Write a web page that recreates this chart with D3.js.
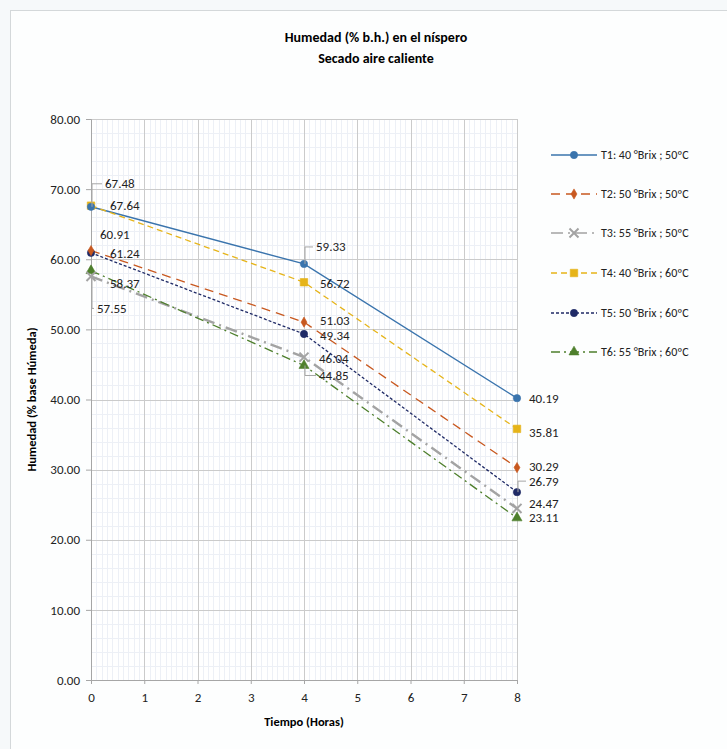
<!DOCTYPE html>
<meta charset="utf-8">
<html lang="es">
<head>
  <title>Humedad en el níspero</title>
  <script src="https://d3js.org/d3.v7.min.js"></script>
  <style>
    body { margin: 0; background: #f6f9fa; font-family: Carlito, Calibri, Lato, sans-serif; }
    .grid-major line { stroke: #cbcbcb; stroke-width: 1; }
    .grid-minor line { stroke: #edf0f6; stroke-width: 1; }
    .tick-lbl { font-size: 13px; fill: #222; }
    .data-lbl { font-size: 13px; fill: #222; }
    .leg-lbl { font-size: 12px; fill: #222; }
  </style>
</head>
<body>
<div id="chart"></div>
<script>

// data
var tiempos = [0, 4, 8];
var yTicks = [0, 10, 20, 30, 40, 50, 60, 70, 80];
var xTicks = [0, 1, 2, 3, 4, 5, 6, 7, 8];

var seriesNames = [
  "T1: 40 °Brix ; 50ºC",
  "T2: 50 °Brix ; 50ºC",
  "T3: 55 °Brix ; 50ºC",
  "T4: 40 °Brix ; 60ºC",
  "T5: 50 °Brix ; 60ºC",
  "T6: 55 °Brix ; 60ºC"
];
var t1 = [67.48, 59.33, 40.19];
var t2 = [61.24, 51.03, 30.29];
var t3 = [57.55, 46.04, 24.47];
var t4 = [67.64, 56.72, 35.81];
var t5 = [60.91, 49.34, 26.79];
var t6 = [58.37, 44.85, 23.11];

// styles for each series (colour, dash, width, marker)
var styles = [
  {color: "#3a74ad", dash: null, width: 1.4, marker: "circle"},
  {color: "#c8581f", dash: "9,6", width: 1.3, marker: "diamond"},
  {color: "#a3a3a3", dash: "12,5,2,5", width: 2.4, marker: "x"},
  {color: "#e6b419", dash: "6,4", width: 1.3, marker: "square"},
  {color: "#1f2a66", dash: "3,2", width: 1.3, marker: "circle"},
  {color: "#4e7f2c", dash: "9,4,2,4", width: 1.3, marker: "triangle"}
];

// label offsets in px from the point: [dx, dy, leader]
var labelOffsets = [
  [[14, -23, 1], [12, -17, 1], [12, 0, 0]],
  [[19, 3, 0], [16, -2, 0], [12, -1, 0]],
  [[6, 32, 1], [15, 1, 0], [12, -5, 0]],
  [[19, 0, 0], [16, 1, 0], [12, 4, 0]],
  [[9, -18, 0], [16, 1, 0], [12, -11, 1]],
  [[19, 13, 0], [15, 10, 1], [12, 0, 0]]
];

var allSeries = [t1, t2, t3, t4, t5, t6];

var W = 727, H = 749;
var margin = {top: 119, left: 91};
var plotW = 426, plotH = 561;

var svg = d3.select("#chart").append("svg")
    .attr("width", W)
    .attr("height", H);

// chart area
svg.append("rect")
    .attr("x", 10.5).attr("y", 10.5)
    .attr("width", W + 20).attr("height", H + 20)
    .attr("fill", "#fdfefe")
    .attr("stroke", "#d4d8da");

var x = d3.scaleLinear().domain([0, 8]).range([0, plotW]);
var y = d3.scaleLinear().domain([0, 80]).range([plotH, 0]);

var g = svg.append("g")
    .attr("transform", "translate(" + margin.left + "," + margin.top + ")");

g.append("rect").attr("width", plotW).attr("height", plotH).attr("fill", "#fff");

// minor grid
var xMinor = d3.range(0, 8.0001, 0.1).filter(function(d) { return Math.abs(d - Math.round(d)) > 1e-6; });
var yMinor = d3.range(0, 80.0001, 2).filter(function(d) { return d % 10 !== 0; });
g.append("g").attr("class", "grid-minor")
  .selectAll("line").data(xMinor).enter().append("line")
    .attr("x1", function(d) { return Math.round(x(d)) + 0.5; })
    .attr("x2", function(d) { return Math.round(x(d)) + 0.5; })
    .attr("y1", 0).attr("y2", plotH);
g.append("g").attr("class", "grid-minor")
  .selectAll("line").data(yMinor).enter().append("line")
    .attr("y1", function(d) { return Math.round(y(d)) + 0.5; })
    .attr("y2", function(d) { return Math.round(y(d)) + 0.5; })
    .attr("x1", 0).attr("x2", plotW);

// major grid
g.append("g").attr("class", "grid-major")
  .selectAll("line").data(xTicks.slice(1)).enter().append("line")
    .attr("x1", function(d) { return Math.round(x(d)) + 0.5; })
    .attr("x2", function(d) { return Math.round(x(d)) + 0.5; })
    .attr("y1", 0).attr("y2", plotH);
g.append("g").attr("class", "grid-major")
  .selectAll("line").data(yTicks.slice(1)).enter().append("line")
    .attr("y1", function(d) { return Math.round(y(d)) + 0.5; })
    .attr("y2", function(d) { return Math.round(y(d)) + 0.5; })
    .attr("x1", 0).attr("x2", plotW);

// axes
var yAxis = g.append("g")
    .call(d3.axisLeft(y).tickValues(yTicks).tickSize(5).tickPadding(6).tickFormat(d3.format(".2f")));
var xAxis = g.append("g")
    .attr("transform", "translate(0," + plotH + ")")
    .call(d3.axisBottom(x).tickValues(xTicks).tickSize(4).tickPadding(9).tickFormat(d3.format("d")));
[yAxis, xAxis].forEach(function(a) {
  a.select(".domain").attr("stroke", "#a6a6a6");
  a.selectAll(".tick line").attr("stroke", "#a6a6a6");
  a.selectAll(".tick text").attr("class", "tick-lbl");
  a.attr("font-family", null).attr("font-size", null);
});

// titles
svg.append("text")
    .attr("x", 376).attr("y", 42)
    .attr("text-anchor", "middle")
    .style("font-weight", "bold").style("font-size", "14px")
    .text("Humedad (% b.h.) en el níspero");
svg.append("text")
    .attr("x", 376).attr("y", 63)
    .attr("text-anchor", "middle")
    .style("font-weight", "bold").style("font-size", "14px")
    .text("Secado aire caliente");
svg.append("text")
    .attr("x", margin.left + plotW / 2).attr("y", 726)
    .attr("text-anchor", "middle")
    .style("font-weight", "bold").style("font-size", "12.5px")
    .text("Tiempo (Horas)");
svg.append("text")
    .attr("transform", "translate(36," + (margin.top + plotH / 2) + ") rotate(-90)")
    .attr("text-anchor", "middle")
    .style("font-weight", "bold").style("font-size", "12.5px")
    .text("Humedad (% base Húmeda)");

// markers
function markerPath(type) {
  var s = {circle: d3.symbolCircle, diamond: d3.symbolDiamond, square: d3.symbolSquare,
           triangle: d3.symbolTriangle, x: d3.symbolX || d3.symbolCross}[type];
  var size = {circle: 42, diamond: 30, square: 56, triangle: 44, x: 55}[type];
  return d3.symbol().type(s).size(size)();
}
function drawMarker(sel, st, cx, cy) {
  var p = sel.append("path")
      .attr("d", markerPath(st.marker))
      .attr("transform", "translate(" + cx + "," + cy + ")");
  if (st.marker === "x") {
    p.attr("fill", "none").attr("stroke", st.color).attr("stroke-width", 2);
  } else {
    p.attr("fill", st.color).attr("stroke", st.color).attr("stroke-width", 0.6);
  }
}

var line = d3.line()
    .x(function(d, i) { return x(tiempos[i]); })
    .y(function(d) { return y(d); });

allSeries.forEach(function(vals, si) {
  var st = styles[si];
  g.append("path")
      .datum(vals)
      .attr("d", line)
      .attr("fill", "none")
      .attr("stroke", st.color)
      .attr("stroke-width", st.width)
      .attr("stroke-dasharray", st.dash);
});

// markers drawn on top, in reverse order so T1 markers are topmost
for (var si = allSeries.length - 1; si >= 0; si--) {
  allSeries[si].forEach(function(v, i) {
    drawMarker(g, styles[si], x(tiempos[i]), y(v));
  });
}

// data labels with leader lines
allSeries.forEach(function(vals, si) {
  vals.forEach(function(v, i) {
    var off = labelOffsets[si][i];
    var px = x(tiempos[i]), py = y(v);
    var lx = px + off[0], ly = py + off[1];
    if (off[2]) {
      g.append("polyline")
          .attr("points", [[px + 1, py], [px + 1, ly], [lx - 3, ly]].join(" "))
          .attr("fill", "none")
          .attr("stroke", "#a6a6a6")
          .attr("stroke-width", 1);
    }
    g.append("text")
        .attr("class", "data-lbl")
        .attr("x", lx).attr("y", ly)
        .attr("dy", "0.35em")
        .text(d3.format(".2f")(v));
  });
});

// legend
var legendY = [155, 194, 233, 273, 313, 352];
var legend = svg.append("g");
seriesNames.forEach(function(name, si) {
  var st = styles[si];
  var ly = legendY[si];
  legend.append("line")
      .attr("x1", 551).attr("x2", 597)
      .attr("y1", ly).attr("y2", ly)
      .attr("stroke", st.color)
      .attr("stroke-width", Math.min(st.width, 1.4))
      .attr("stroke-dasharray", st.dash);
  drawMarker(legend, st, 574, ly);
  legend.append("text")
      .attr("class", "leg-lbl")
      .attr("x", 601).attr("y", ly)
      .attr("dy", "0.35em")
      .text(name);
});

</script>
</body>
</html>
